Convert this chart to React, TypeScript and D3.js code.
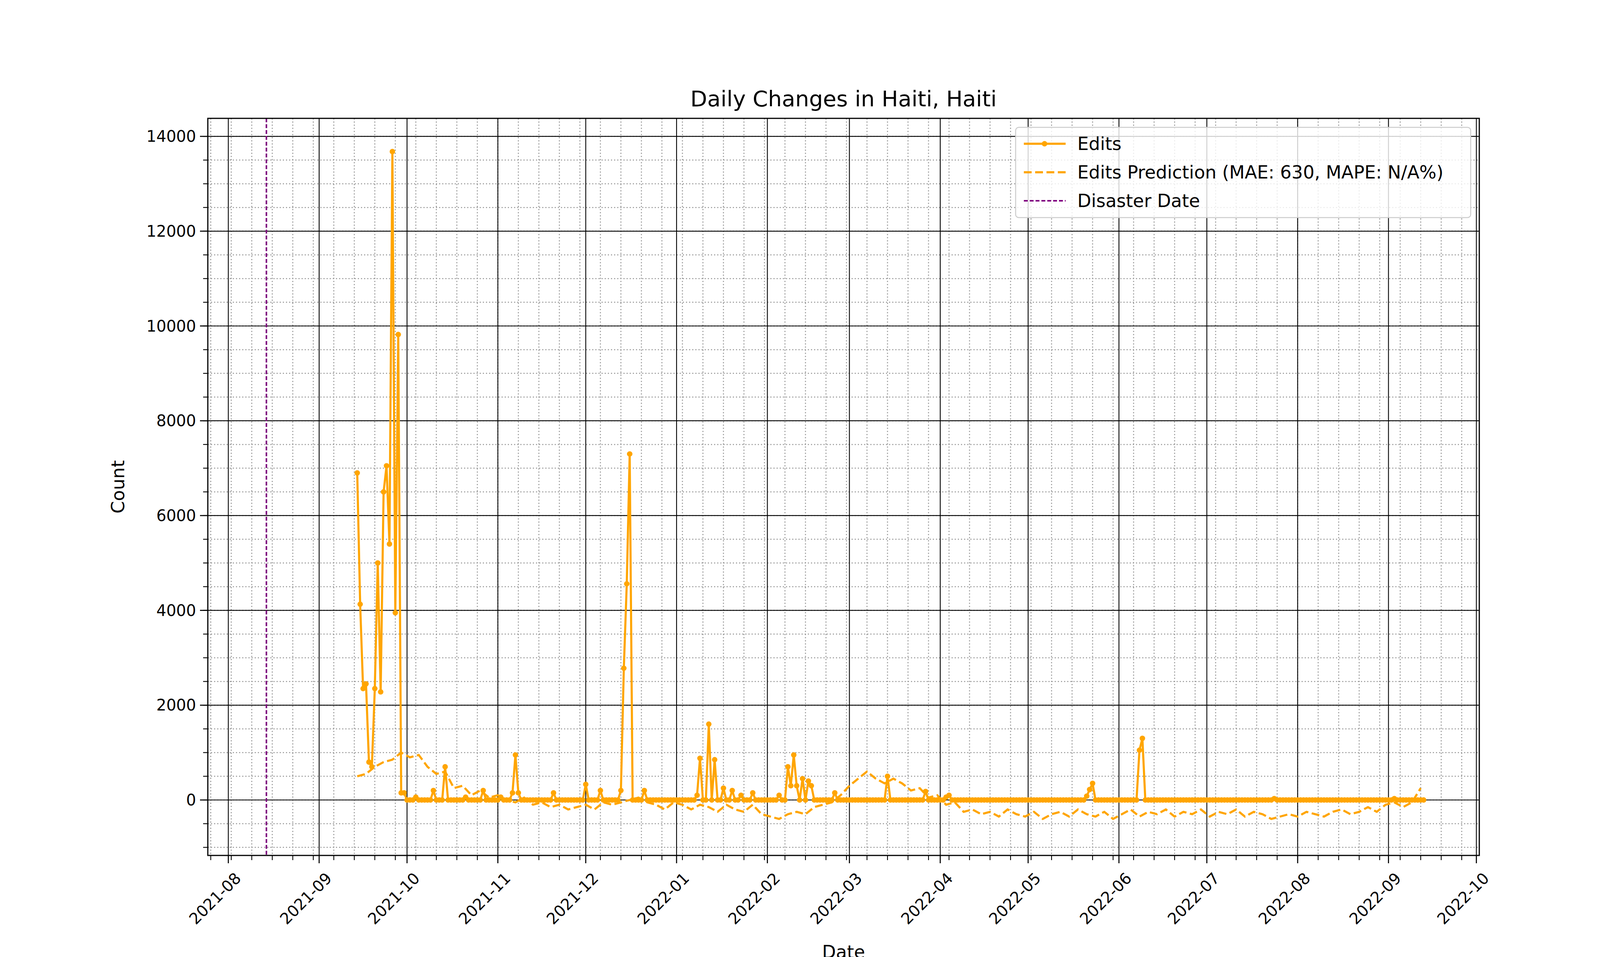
import React from 'react'
import * as d3 from 'd3'

// spikes in the Edits series (other days are 0)
const editSpikes: [string, number][] = [
  ['2021-09-14', 6900], ['2021-09-15', 4130], ['2021-09-16', 2350], ['2021-09-17', 2450],
  ['2021-09-18', 800], ['2021-09-19', 700], ['2021-09-20', 2350], ['2021-09-21', 5000],
  ['2021-09-22', 2280], ['2021-09-23', 6500], ['2021-09-24', 7050], ['2021-09-25', 5400],
  ['2021-09-26', 13680], ['2021-09-27', 3950], ['2021-09-28', 9820], ['2021-09-29', 150],
  ['2021-09-30', 150], ['2021-10-04', 60], ['2021-10-10', 200], ['2021-10-14', 700],
  ['2021-10-21', 60], ['2021-10-27', 200], ['2021-11-02', 60], ['2021-11-06', 150],
  ['2021-11-07', 950], ['2021-11-08', 150], ['2021-11-20', 150], ['2021-12-01', 330],
  ['2021-12-06', 200], ['2021-12-13', 200], ['2021-12-14', 2780], ['2021-12-15', 4560],
  ['2021-12-16', 7300], ['2021-12-21', 200], ['2022-01-08', 100], ['2022-01-09', 880],
  ['2022-01-12', 1600], ['2022-01-14', 850], ['2022-01-17', 250], ['2022-01-20', 200],
  ['2022-01-23', 100], ['2022-01-27', 150], ['2022-02-05', 100], ['2022-02-08', 700],
  ['2022-02-09', 300], ['2022-02-10', 950], ['2022-02-11', 300], ['2022-02-13', 450],
  ['2022-02-15', 400], ['2022-02-16', 300], ['2022-02-24', 150], ['2022-03-14', 500],
  ['2022-03-27', 180], ['2022-04-03', 60], ['2022-04-04', 100], ['2022-05-21', 80],
  ['2022-05-22', 220], ['2022-05-23', 350], ['2022-06-08', 1050], ['2022-06-09', 1300],
  ['2022-07-24', 30], ['2022-09-03', 30],
]
const editsStart = '2021-09-14'
const editsEnd = '2022-09-13'

// prediction, one value every 3 days from 2021-09-14
const predStart = '2021-09-14'
const predValues = [
  500, 550, 700, 800, 850, 1000, 900, 950, 700, 550, 600, 250, 300, 100, 200, 50, 100, 0, -50, 50,
  -100, -50, -150, -100, -200, -150, -100, -200, -50, -100, -50, 0, 50, -50, -100, -200, -50, -100,
  -200, -100, -150, -250, -100, -200, -250, -100, -300, -350, -400, -300, -250, -300, -150, -100,
  -50, 100, 300, 450, 600, 450, 350, 450, 350, 200, 250, 50, 100, -100, -50, -250, -200, -300, -250,
  -350, -200, -300, -350, -250, -400, -300, -250, -350, -200, -300, -350, -250, -400, -300, -200,
  -350, -250, -300, -200, -350, -250, -300, -200, -350, -250, -300, -200, -350, -250, -300, -400,
  -350, -300, -350, -250, -300, -350, -250, -200, -300, -250, -150, -250, -100, -50, -150, -50, 250,
]

const disasterDate = '2021-08-14'
const yTicks = [0, 2000, 4000, 6000, 8000, 10000, 12000, 14000]
const legendLabels = ['Edits', 'Edits Prediction (MAE: 630, MAPE: N/A%)', 'Disaster Date']

const W = 4200
const H = 2450
const L = 524
const R = 3779
const T = 295
const B = 2182
const ORANGE = '#FFA500'
const PURPLE = '#800080'
const FONT = 'DejaVu Sans, sans-serif'

const parse = d3.utcParse('%Y-%m-%d')

export default function App() {
  const x = d3.scaleUtc().domain([parse('2021-07-25')!, parse('2022-10-02')!]).range([L, R])
  const y = d3.scaleLinear().domain([-1170, 14380]).range([B, T])

  const spikeMap = new Map(editSpikes.map(([d, v]) => [d, v]))
  const edits = d3.utcDay
    .range(parse(editsStart)!, d3.utcDay.offset(parse(editsEnd)!, 1))
    .map((d) => ({ date: d, value: spikeMap.get(d3.utcFormat('%Y-%m-%d')(d)) ?? 0 }))
  const pred = predValues.map((v, i) => ({ date: d3.utcDay.offset(parse(predStart)!, i * 3), value: v }))

  const line = d3
    .line<{ date: Date; value: number }>()
    .x((d) => x(d.date))
    .y((d) => y(d.value))

  const months = x.ticks(d3.utcMonth.every(1)!)
  const weeks = d3.utcMonday.range(x.domain()[0], x.domain()[1])
  const minorY = d3.range(-1000, 14400, 500)
  const fmt = d3.utcFormat('%Y-%m')

  return (
    <svg width={W} height={H} style={{ display: 'block', background: '#fff' }} fontFamily={FONT}>
      <defs>
        <clipPath id="plot">
          <rect x={L} y={T} width={R - L} height={B - T} />
        </clipPath>
      </defs>
      {/* minor grid */}
      {weeks.map((d, i) => (
        <line key={'wx' + i} x1={x(d)} x2={x(d)} y1={T} y2={B} stroke="#999" strokeWidth={2.5} strokeDasharray="3,5" />
      ))}
      {minorY.map((v, i) => (
        <line key={'my' + i} x1={L} x2={R} y1={y(v)} y2={y(v)} stroke="#999" strokeWidth={2.5} strokeDasharray="3,5" />
      ))}
      {/* major grid */}
      {months.map((d, i) => (
        <line key={'mx' + i} x1={x(d)} x2={x(d)} y1={T} y2={B} stroke="#000" strokeWidth={2.2} />
      ))}
      {yTicks.map((v) => (
        <line key={'gy' + v} x1={L} x2={R} y1={y(v)} y2={y(v)} stroke="#000" strokeWidth={2.2} />
      ))}
      <g clipPath="url(#plot)">
        <line
          x1={x(parse(disasterDate)!)}
          x2={x(parse(disasterDate)!)}
          y1={T}
          y2={B}
          stroke={PURPLE}
          strokeWidth={4}
          strokeDasharray="10,5"
        />
        <path d={line(pred)!} fill="none" stroke={ORANGE} strokeWidth={5.4} strokeDasharray="20,9" />
        <path d={line(edits)!} fill="none" stroke={ORANGE} strokeWidth={5.4} strokeLinejoin="round" />
        {edits.map((d, i) => (
          <circle key={'p' + i} cx={x(d.date)} cy={y(d.value)} r={7} fill={ORANGE} />
        ))}
      </g>
      <rect x={L} y={T} width={R - L} height={B - T} fill="none" stroke="#000" strokeWidth={3} />
      {/* x ticks */}
      {weeks.map((d, i) => (
        <line key={'wt' + i} x1={x(d)} x2={x(d)} y1={B} y2={B + 12} stroke="#000" strokeWidth={2.2} />
      ))}
      {months.map((d, i) => (
        <g key={'xt' + i}>
          <line x1={x(d)} x2={x(d)} y1={B} y2={B + 20} stroke="#000" strokeWidth={2.7} />
          <text
            transform={`translate(${x(d) + 14},${B + 40}) rotate(-45)`}
            textAnchor="end"
            dominantBaseline="hanging"
            fontSize={40}
          >
            {fmt(d)}
          </text>
        </g>
      ))}
      {/* y ticks */}
      {minorY.map((v, i) => (
        <line key={'yt' + i} x1={L - 12} x2={L} y1={y(v)} y2={y(v)} stroke="#000" strokeWidth={2.2} />
      ))}
      {yTicks.map((v) => (
        <g key={'yl' + v}>
          <line x1={L - 20} x2={L} y1={y(v)} y2={y(v)} stroke="#000" strokeWidth={2.7} />
          <text x={L - 30} y={y(v)} textAnchor="end" dominantBaseline="central" fontSize={40}>
            {v}
          </text>
        </g>
      ))}
      <text x={(L + R) / 2} y={264} textAnchor="middle" fontSize={56}>
        Daily Changes in Haiti, Haiti
      </text>
      <text x={(L + R) / 2} y={2445} textAnchor="middle" fontSize={46}>
        Date
      </text>
      <text transform={`translate(310,${(T + B) / 2}) rotate(-90)`} textAnchor="middle" fontSize={46}>
        Count
      </text>
      {/* legend */}
      <g>
        <rect x={2592} y={318} width={1165} height={231} rx={8} fill="#fff" fillOpacity={0.8} stroke="#ccc" strokeWidth={2.5} />
        <line x1={2613} x2={2720} y1={360} y2={360} stroke={ORANGE} strokeWidth={5.4} />
        <circle cx={2666} cy={360} r={7} fill={ORANGE} />
        <line x1={2613} x2={2720} y1={433} y2={433} stroke={ORANGE} strokeWidth={5.4} strokeDasharray="20,9" />
        <line x1={2613} x2={2720} y1={506} y2={506} stroke={PURPLE} strokeWidth={4} strokeDasharray="10,5" />
        {legendLabels.map((t, i) => (
          <text key={t} x={2750} y={360 + i * 73} dominantBaseline="central" fontSize={46}>
            {t}
          </text>
        ))}
      </g>
    </svg>
  )
}
